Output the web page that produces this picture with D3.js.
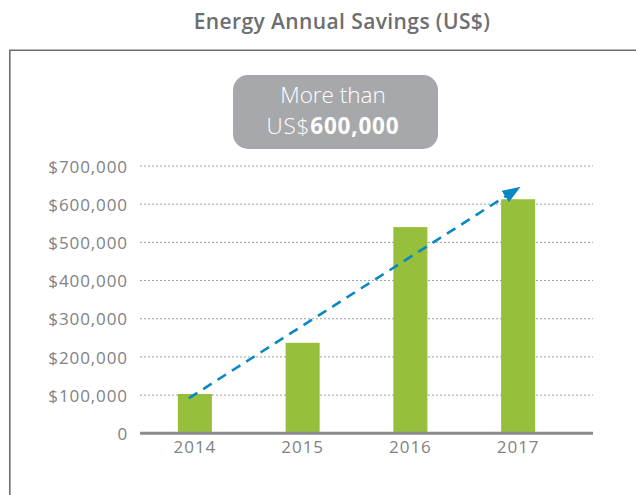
<!DOCTYPE html>
<html>
<head>
<meta charset="utf-8">
<script src="https://cdn.jsdelivr.net/npm/d3@7"></script>
<style>
  body { margin: 0; background: #fff; }
  svg { display: block; font-family: "Open Sans", "Noto Sans", sans-serif; }
</style>
</head>
<body>
<svg id="chart"></svg>
<script>
    // chart data
    const years = ["2014", "2015", "2016", "2017"];
    const savings = [103000, 237000, 540000, 613000];
    const yTicks = [0, 100000, 200000, 300000, 400000, 500000, 600000, 700000];
    // trend arrow, start and end value
    const arrowValues = [92000, 645000];
    const title = "Energy Annual Savings (US$)";
    const calloutLines = ["More than", "US$", "600,000"];

    function createChart() {
      const width = 636;
      const height = 495;
      const green = "#96bf3b";
      const grey = "#808285";

      const svg = d3.select("#chart")
        .attr("width", width)
        .attr("height", height);

      // title
      svg.append("text")
        .attr("x", 342)
        .attr("y", 29)
        .attr("text-anchor", "middle")
        .attr("fill", "#6d6e71")
        .attr("font-size", 21)
        .attr("letter-spacing", 0.4)
        .attr("font-weight", 600)
        .text(title);

      // frame, runs off the right and bottom edge
      svg.append("path")
        .attr("d", `M9.8,${height + 5}V50.3H${width + 5}`)
        .attr("fill", "none")
        .attr("stroke", "#6d6e71")
        .attr("stroke-width", 1.6);

      const x = d3.scaleBand()
        .domain(years)
        .range([141, 572])
        .paddingInner(0.684)
        .paddingOuter(0.342);

      const y = d3.scaleLinear()
        .domain([0, 700000])
        .range([433.3, 166]);

      // dashed grid lines
      svg.append("g")
        .selectAll("line")
        .data(yTicks.filter(d => d > 0))
        .join("line")
        .attr("x1", 140)
        .attr("x2", 593)
        .attr("y1", d => y(d))
        .attr("y2", d => y(d))
        .attr("stroke", "#9d9fa2")
        .attr("stroke-width", 1)
        .attr("stroke-dasharray", "2,2");

      // y axis labels (no line)
      const yAxis = d3.axisLeft(y)
        .tickValues(yTicks)
        .tickSize(0)
        .tickPadding(0)
        .tickFormat(d => d === 0 ? "0" : "$" + d3.format(",")(d));

      svg.append("g")
        .attr("transform", "translate(128,0)")
        .call(yAxis)
        .call(g => g.select(".domain").remove())
        .selectAll("text")
        .attr("fill", grey)
        .attr("font-size", 17)
        .attr("letter-spacing", 0.9)
        .attr("font-family", "'Open Sans', sans-serif")
        .attr("dy", "0.36em");

      // bars
      svg.append("g")
        .selectAll("rect")
        .data(years)
        .join("rect")
        .attr("x", d => x(d))
        .attr("width", x.bandwidth())
        .attr("y", (d, i) => y(savings[i]))
        .attr("height", (d, i) => y(0) - y(savings[i]))
        .attr("fill", green);

      // baseline
      svg.append("line")
        .attr("x1", 140)
        .attr("x2", 593)
        .attr("y1", y(0))
        .attr("y2", y(0))
        .attr("stroke", "#8a8b8e")
        .attr("stroke-width", 3);

      // x labels
      const xAxis = d3.axisBottom(x).tickSize(0).tickPadding(0);
      svg.append("g")
        .attr("transform", `translate(0,${y(0)})`)
        .call(xAxis)
        .call(g => g.select(".domain").remove())
        .selectAll("text")
        .attr("fill", grey)
        .attr("font-size", 17)
        .attr("letter-spacing", 1)
        .attr("font-family", "'Open Sans', sans-serif")
        .attr("dy", "1.15em");

      // trend arrow
      svg.append("defs").append("marker")
        .attr("id", "arrowHead")
        .attr("viewBox", "0 0 10 10")
        .attr("refX", 2)
        .attr("refY", 5)
        .attr("markerWidth", 7)
        .attr("markerHeight", 5.2)
        .attr("markerUnits", "strokeWidth")
        .attr("orient", "auto")
        .attr("preserveAspectRatio", "none")
        .append("path")
        .attr("d", "M0,0L10,5L0,10z")
        .attr("fill", "#0a88c3");

      const first = years[0], last = years[years.length - 1];
      const ax1 = x(first) + x.bandwidth() / 2 - 6;
      const ax2 = x(last) + x.bandwidth() / 2 + 2;
      const ay1 = y(arrowValues[0]);
      const ay2 = y(arrowValues[1]);
      // shorten the line so the marker tip lands on the end point
      const len = Math.hypot(ax2 - ax1, ay2 - ay1);
      const cut = 14;
      svg.append("line")
        .attr("x1", ax1)
        .attr("y1", ay1)
        .attr("x2", ax2 - (ax2 - ax1) * cut / len)
        .attr("y2", ay2 - (ay2 - ay1) * cut / len)
        .attr("stroke", "#0a88c3")
        .attr("stroke-width", 2.6)
        .attr("stroke-dasharray", "10,7")
        .attr("marker-end", "url(#arrowHead)");

      // callout box
      const box = svg.append("g");
      box.append("rect")
        .attr("x", 233)
        .attr("y", 75)
        .attr("width", 205)
        .attr("height", 74)
        .attr("rx", 15)
        .attr("fill", "#a7a8ab");

      box.append("text")
        .attr("x", 333)
        .attr("y", 103)
        .attr("text-anchor", "middle")
        .attr("fill", "#fff")
        .attr("font-size", 22.5)
        .attr("font-weight", 300)
        .text(calloutLines[0]);

      const line2 = box.append("text")
        .attr("x", 333)
        .attr("y", 134)
        .attr("text-anchor", "middle")
        .attr("fill", "#fff")
        .attr("font-size", 22.5)
        .attr("letter-spacing", 0.8);
      line2.append("tspan").attr("font-weight", 300).text(calloutLines[1]);
      line2.append("tspan").attr("font-weight", 700).text(calloutLines[2]);
    }

    createChart();
</script>
</body>
</html>
